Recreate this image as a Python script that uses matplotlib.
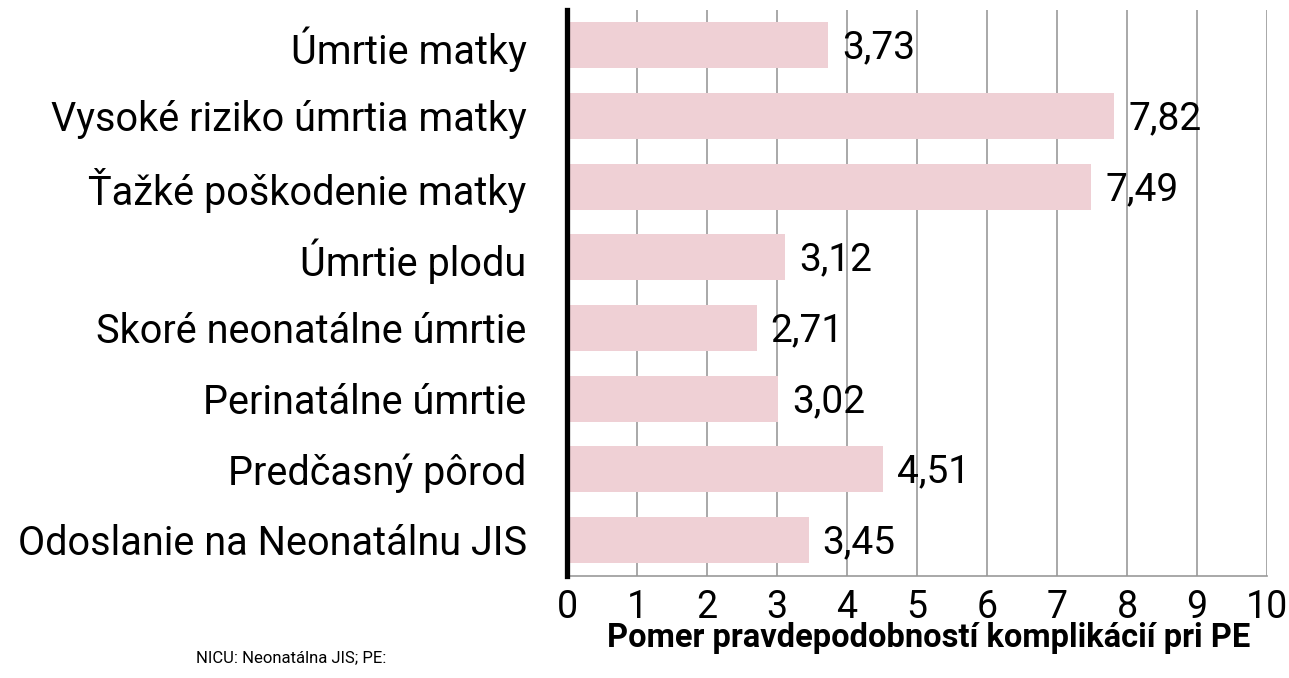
import numpy as np
import matplotlib.pyplot as plt

# data
categories = [
    "Úmrtie matky",
    "Vysoké riziko úmrtia matky",
    "Ťažké poškodenie matky",
    "Úmrtie plodu",
    "Skoré neonatálne úmrtie",
    "Perinatálne úmrtie",
    "Predčasný pôrod",
    "Odoslanie na Neonatálnu JIS",
]
odds_ratios = [3.73, 7.82, 7.49, 3.12, 2.71, 3.02, 4.51, 3.45]
xticks = list(range(0, 11))
xlabel = "Pomer pravdepodobností komplikácií pri PE"
footnote = "NICU: Neonatálna JIS; PE:"

plt.rcParams['font.family'] = ['Roboto', 'DejaVu Sans']

fig = plt.figure(figsize=(12.89, 6.78), dpi=100)
ax = fig.add_axes([567/1289, 1 - 576/678, 700/1289, 566/678])

y = np.arange(len(categories))
ax.barh(y, odds_ratios, height=0.65, color='#efd0d5', zorder=2)

for yi, v in zip(y, odds_ratios):
    ax.text(v + 0.2, yi + 0.04, f"{v:.2f}".replace('.', ','), va='center',
            ha='left', fontsize=28, color='black', zorder=3)

ax.set_xlim(0, 10)
ax.set_ylim(len(categories) - 1 + 0.51, -0.5)
ax.set_yticks(y)
ax.set_yticklabels(categories, fontsize=28.5)
ax.set_xticks(xticks)
ax.set_xticklabels([str(t) for t in xticks], fontsize=27)
ax.tick_params(axis='y', length=0, pad=29)
ax.tick_params(axis='x', length=0, pad=9)

# Grid & spines
ax.set_axisbelow(True)
ax.grid(True, axis='x', color='#999999', linewidth=1.2, zorder=0)
ax.spines['top'].set_visible(False)
ax.spines['right'].set_visible(False)
ax.spines['left'].set_linewidth(3.8)
ax.spines['left'].set_color('black')
ax.spines['left'].set_zorder(4)
ax.spines['bottom'].set_color('#999999')
ax.spines['bottom'].set_linewidth(1.2)

fig.text(929/1289, 1 - 638/678, xlabel, fontsize=23.5, fontweight='bold',
         va='center', ha='center')

fig.text(196/1289, 1 - 658/678, footnote, fontsize=12, va='center', ha='left')

plt.savefig('out.png', dpi=100)
plt.close()
